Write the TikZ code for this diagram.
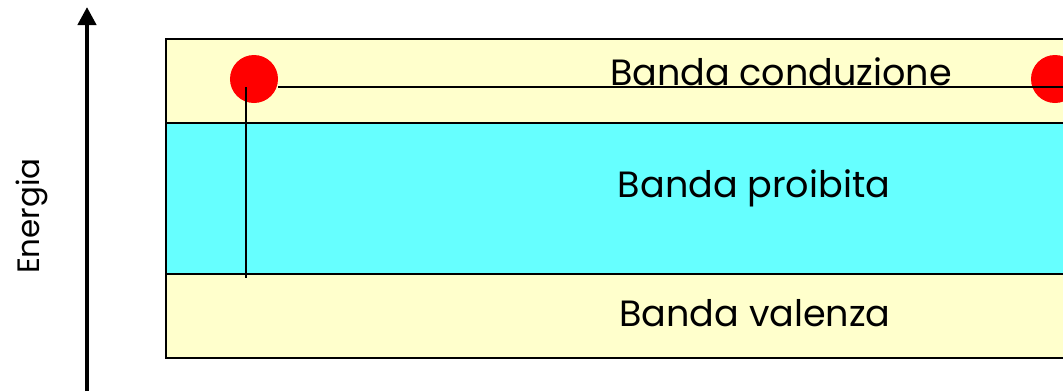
\documentclass[tikz,border=0pt]{standalone}
\usepackage{fontspec}
\setmainfont{Poppins}
\usetikzlibrary{arrows.meta}
\definecolor{bandyellow}{HTML}{FFFFCC}
\definecolor{bandcyan}{HTML}{66FFFF}

\begin{document}
\begin{tikzpicture}[
  x=0.025cm, y=-0.025cm,
  band/.style={draw, line width=1.2pt, minimum width=22.85cm, inner sep=0pt},
  lbl/.style={font=\fontsize{26}{30}\selectfont, anchor=base},
  elec/.style={circle, fill=red, minimum size=1.2cm, inner sep=0pt},
  wire/.style={line width=1.2pt}
]
\clip (0,0) rectangle (1063,391);
% bande
\node[band, fill=bandyellow, minimum height=2.1cm] (cond) at (623,81) {};
\node[band, fill=bandyellow, minimum height=2.1cm] (val) at (623,316) {};
\node[band, fill=bandcyan, minimum height=3.775cm] (gap) at (623,198.5) {};
\node[lbl] (tcond) at (781,85) {Banda conduzione};
\node[lbl] (tgap) at (754,197) {Banda proibita};
\node[lbl] (tval) at (755,326) {Banda valenza};
% elettroni
\node[elec] (e1) at (254,79) {};
\node[elec] (e2) at (1055,79) {};
\coordinate (ebot) at (246,278);
\draw[wire] (e1.east |- 0,87) -- (e2.west |- 0,87) -- (1063,87);
\draw[wire] (246,87) -- (ebot);
% asse energia
\coordinate (abot) at (87,391);
\coordinate (atop) at (87,7);
\draw[line width=3pt, -{Triangle[width=0.45cm,length=0.45cm]}] (abot) -- (atop);
\node[font=\fontsize{22}{26}\selectfont, rotate=90] (en) at (32,216) {Energia};
\end{tikzpicture}
\end{document}
